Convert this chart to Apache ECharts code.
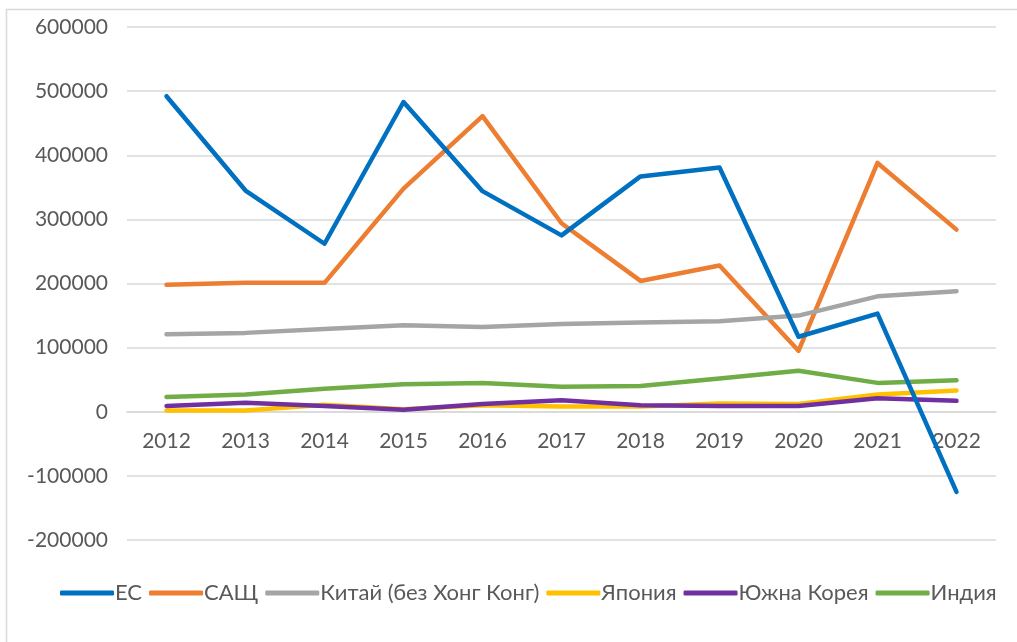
<!DOCTYPE html>
<html>
<head>
<meta charset="utf-8">
<script src="https://cdn.jsdelivr.net/npm/echarts@6/dist/echarts.min.js"></script>
<style>
  html, body { margin: 0; padding: 0; background: #fff; }
  #main { width: 1017px; height: 642px; }
</style>
</head>
<body>
<div id="main"></div>
<script>
// years on the x axis
var years = ['2012', '2013', '2014', '2015', '2016', '2017', '2018', '2019', '2020', '2021', '2022'];

// values
var es     = [492000, 345000, 262000, 483000, 344000, 275000, 367000, 381000, 117000, 153000, -125000];
var sasht  = [198000, 201000, 201000, 348000, 461000, 294000, 204000, 228000, 95000, 388000, 284000];
var kitai  = [121000, 123000, 129000, 135000, 132000, 137000, 139000, 141000, 150000, 180000, 188000];
var yaponia = [2000, 2000, 11000, 4000, 10000, 8000, 8000, 13000, 12000, 27000, 33000];
var korea  = [9000, 14000, 9000, 3000, 12000, 18000, 10000, 9000, 9000, 21000, 17000];
var india  = [23000, 27000, 36000, 43000, 45000, 39000, 40000, 52000, 64000, 45000, 49000];

var yTicks = { min: -200000, max: 600000, step: 100000 };

var fontName = 'Lato, "Noto Sans", sans-serif';
var textGrey = '#595959';

// plot box, the x axis sits on the zero line
var gridTop = 27, gridBottom = 102;
var plotH = 642 - gridTop - gridBottom;
var zeroShift = plotH * (0 - yTicks.min) / (yTicks.max - yTicks.min);

function mkLine(name, data, color, z) {
  return {
    name: name,
    type: 'line',
    data: data,
    showSymbol: false,
    symbol: 'none',
    z: z,
    lineStyle: { color: color, width: 4.5, cap: 'round', join: 'round' },
    itemStyle: { color: color }
  };
}

var myChart = echarts.init(document.getElementById('main'));

var option = {
  backgroundColor: '#fff',
  animation: false,
  textStyle: { fontFamily: fontName },
  graphic: [{
    type: 'rect',
    shape: { x: 6.5, y: 9.5, width: 1100, height: 700 },
    style: { fill: 'none', stroke: '#d9d9d9', lineWidth: 1.5 },
    silent: true
  }],
  grid: { left: 127, right: 21, top: gridTop, bottom: gridBottom },
  legend: {
    top: 577,
    left: 55,
    itemWidth: 54,
    itemHeight: 5,
    itemGap: 7,
    icon: 'roundRect',
    textStyle: { color: textGrey, fontSize: 22, fontFamily: fontName, padding: [0, 0, 0, -4] },
    data: ['ЕС', 'САЩ', 'Китай (без Хонг Конг)', 'Япония', 'Южна Корея', 'Индия']
  },
  xAxis: {
    type: 'category',
    data: years,
    boundaryGap: true,
    offset: -zeroShift,
    axisLine: { onZero: false, lineStyle: { color: '#d9d9d9', width: 1.5 } },
    axisTick: { show: false },
    axisLabel: { color: textGrey, fontSize: 21, margin: 19 }
  },
  yAxis: {
    type: 'value',
    min: yTicks.min,
    max: yTicks.max,
    interval: yTicks.step,
    axisLine: { show: false },
    axisTick: { show: false },
    axisLabel: {
      color: textGrey, fontSize: 21, margin: 19,
      formatter: function (v) { return String(v); }
    },
    splitLine: { lineStyle: { color: '#d9d9d9', width: 1.5 } }
  },
  series: [
    mkLine('ЕС', es, '#0070C0', 8),
    mkLine('САЩ', sasht, '#ED7D31', 3),
    mkLine('Китай (без Хонг Конг)', kitai, '#A5A5A5', 4),
    mkLine('Япония', yaponia, '#FFC000', 5),
    mkLine('Южна Корея', korea, '#7030A0', 6),
    mkLine('Индия', india, '#70AD47', 7)
  ]
};

myChart.setOption(option);
window.onresize = myChart.resize;
</script>
</body>
</html>
